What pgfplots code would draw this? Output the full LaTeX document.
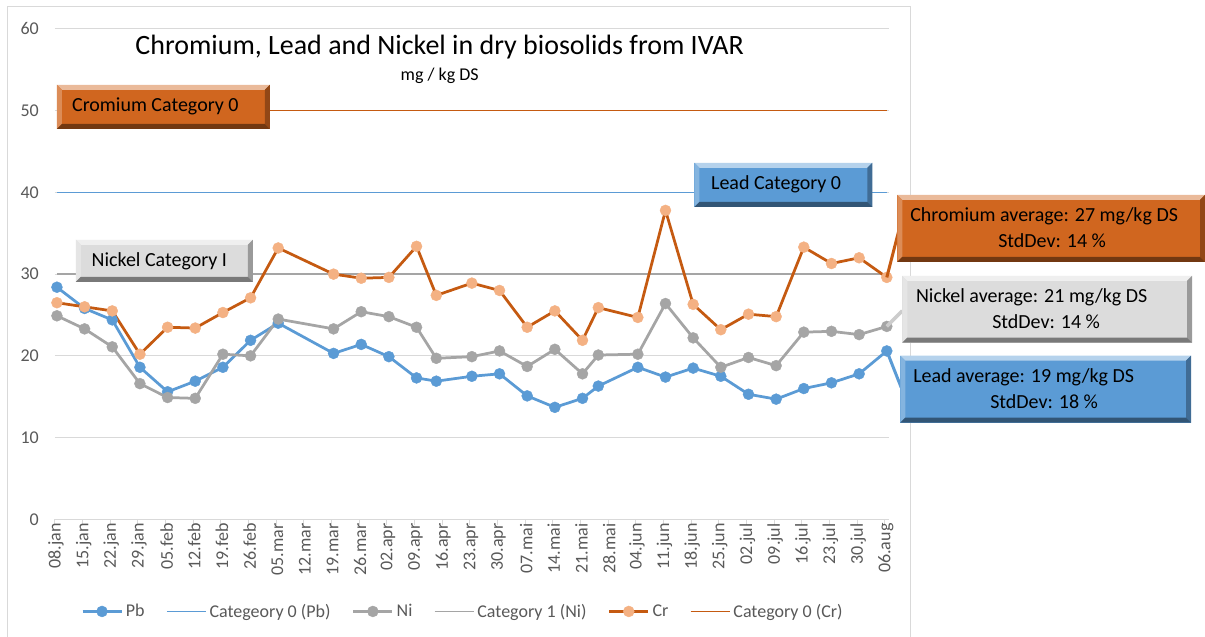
\documentclass[border=0pt]{standalone}
\usepackage{pgfplots}
\usepackage{pgfplotstable}
\pgfplotsset{compat=1.18}
\usepackage{fontspec}
\setmainfont{Carlito}
\definecolor{pbblue}{HTML}{5B9BD5}
\definecolor{nigray}{HTML}{A5A5A5}
\definecolor{crline}{HTML}{C55A11}
\definecolor{crmark}{HTML}{F4B183}
\definecolor{gridc}{HTML}{D9D9D9}
\definecolor{txtgray}{HTML}{595959}
\definecolor{boxorange}{HTML}{D0661F}
\definecolor{boxblue}{HTML}{5B9BD5}
\definecolor{boxgray}{HTML}{DCDCDC}

\pgfplotstableread{
d pb ni cr
0.5 28.4 24.9 26.5
7.5 25.8 23.3 26.0
14.5 24.4 21.1 25.5
21.5 18.6 16.6 20.2
28.5 15.6 14.9 23.5
35.5 16.9 14.8 23.4
42.5 18.6 20.2 25.3
49.5 21.9 20.0 27.1
56.5 24.0 24.5 33.2
70.5 20.3 23.3 30.0
77.5 21.4 25.4 29.5
84.5 19.9 24.8 29.6
91.5 17.3 23.5 33.4
96.5 16.9 19.7 27.4
105.5 17.5 19.9 28.9
112.5 17.8 20.6 28.0
119.5 15.1 18.7 23.5
126.5 13.7 20.8 25.5
133.5 14.8 17.8 21.9
137.5 16.3 20.1 25.9
147.5 18.6 20.2 24.7
154.5 17.4 26.4 37.8
161.5 18.5 22.2 26.3
168.5 17.5 18.6 23.2
175.5 15.3 19.8 25.1
182.5 14.7 18.8 24.8
189.5 16.0 22.9 33.3
196.5 16.7 23.0 31.3
203.5 17.8 22.6 32.0
210.5 20.6 23.6 29.6
}\datatable

\newcommand{\bevelbox}[5]{%
  \fill[#5] (#1,-#2) rectangle (#3,-#4);
  \fill[#5!45!white] (#1,-#2) -- (#3,-#2) -- ({#3-5},{-#2-5}) -- ({#1+5},{-#2-5}) -- cycle;
  \fill[#5!75!white] (#1,-#2) -- ({#1+5},{-#2-5}) -- ({#1+5},{-#4+5}) -- (#1,-#4) -- cycle;
  \fill[#5!70!black] (#3,-#2) -- ({#3-5},{-#2-5}) -- ({#3-5},{-#4+5}) -- (#3,-#4) -- cycle;
  \fill[#5!55!black] (#1,-#4) -- ({#1+5},{-#4+5}) -- ({#3-5},{-#4+5}) -- (#3,-#4) -- cycle;
}

\begin{document}
\begin{tikzpicture}
\begin{scope}[x=1pt,y=1pt]
\useasboundingbox (0,0) rectangle (1205,-637);
\fill[white] (0,0) rectangle (1205,-637);
\draw[gridc, line width=1pt] (7.5,-650) -- (7.5,-6.5) -- (911.5,-6.5) -- (911.5,-650);
\end{scope}
\begin{axis}[
  scale only axis, width=834.5pt, height=490.7pt,
  at={(55pt,-519.7pt)}, anchor=south west,
  xmin=0, xmax=211, ymin=0, ymax=60,
  xtick={0,7,...,210},
  xticklabels={08.jan,15.jan,22.jan,29.jan,05.feb,12.feb,19.feb,26.feb,05.mar,12.mar,19.mar,26.mar,02.apr,09.apr,16.apr,23.apr,30.apr,07.mai,14.mai,21.mai,28.mai,04.jun,11.jun,18.jun,25.jun,02.jul,09.jul,16.jul,23.jul,30.jul,06.aug},
  ytick={0,10,...,60},
  ymajorgrids, grid style={gridc, line width=1pt},
  axis x line*=bottom, axis y line*=left,
  x axis line style={gridc, line width=1pt, -},
  y axis line style={draw=none},
  xtick style={gridc, line width=1pt},
  ytick style={draw=none},
  major tick length=6pt, tick align=outside,
  ticklabel style={font=\fontsize{18}{20}\selectfont, text=txtgray},
  xticklabel style={rotate=90, anchor=east, inner sep=0pt, xshift=2pt, yshift=-1pt},
  yticklabel style={anchor=east, inner sep=0pt, xshift=-10pt},
  /pgf/number format/assume math mode=true,
  clip=false,
  legend columns=6,
  legend style={draw=none, fill=none, at={(0.0312,-0.188)}, anchor=west, inner sep=0pt,
    font=\fontsize{18}{20}\selectfont, text=txtgray,
    /tikz/every odd column/.append style={column sep=3pt},
    /tikz/every even column/.append style={column sep=21.5pt},
    nodes={inner sep=0pt}},
  legend image code/.code={\draw[mark repeat=2,mark phase=2,#1] plot coordinates {(0pt,0pt) (19.5pt,0pt) (39pt,0pt)};},
]
\addplot[pbblue, line width=2.75pt, mark=*, mark size=5.5pt, mark options={solid, fill=pbblue, draw=pbblue, line width=0.4pt}] table[x=d, y=pb] {\datatable};
\addlegendentry{Pb}
\addplot[pbblue, line width=1.5pt] coordinates {(0.5,40) (210.5,40)};
\addlegendentry{Categeory 0 (Pb)}
\addplot[nigray, line width=2.75pt, mark=*, mark size=5.5pt, mark options={solid, fill=nigray, draw=nigray, line width=0.4pt}] table[x=d, y=ni] {\datatable};
\addlegendentry{Ni}
\addplot[nigray, line width=1.5pt] coordinates {(0.5,30) (210.5,30)};
\addlegendentry{Category 1 (Ni)}
\addplot[crline, line width=2.75pt, mark=*, mark size=5.5pt, mark options={solid, fill=crmark, draw=crmark, line width=0.4pt}] table[x=d, y=cr] {\datatable};
\addlegendentry{Cr}
\addplot[crline, line width=1.5pt] coordinates {(0.5,50) (210.5,50)};
\addlegendentry{Category 0 (Cr)}
\coordinate (crlast) at (axis cs:210.5,29.6);
\coordinate (nilast) at (axis cs:210.5,23.6);
\coordinate (pblast) at (axis cs:210.5,20.6);
\end{axis}
\begin{scope}[x=1pt,y=1pt]
% leader lines
\draw[crline, line width=3pt] (crlast) -- (900,-229);
\draw[gray!40, line width=3.5pt] (nilast) -- (903,-311);
\draw[pbblue, line width=3pt] (pblast) -- (902,-388);
% title
\node[font=\fontsize{28}{32}\selectfont, inner sep=0pt] at (440,-47) {Chromium, Lead and Nickel in dry biosolids from IVAR};
\node[font=\fontsize{18}{20}\selectfont, inner sep=0pt] at (440,-76) {mg / kg DS};
% category boxes
\bevelbox{57}{85}{270}{129}{boxorange}
\node[font=\fontsize{20}{24}\selectfont, inner sep=0pt, anchor=west] at (72,-106) {Cromium Category 0};
\bevelbox{695}{163}{873}{207}{boxblue}
\node[font=\fontsize{20}{24}\selectfont, inner sep=0pt, anchor=west] at (711.5,-184) {Lead Category 0};
\bevelbox{76}{240}{253}{282}{boxgray}
\node[font=\fontsize{20}{24}\selectfont, inner sep=0pt, anchor=west] at (91.5,-261) {Nickel Category I};
% average boxes
\bevelbox{898}{195}{1206}{262}{boxorange}
\node[font=\fontsize{20}{24}\selectfont, inner sep=0pt] at (1045,-216) {Chromium average: 27 mg/kg DS};
\node[font=\fontsize{20}{24}\selectfont, inner sep=0pt] at (1053,-241) {StdDev: 14 \%};
\bevelbox{903}{276}{1193}{343}{boxgray}
\node[font=\fontsize{20}{24}\selectfont, inner sep=0pt] at (1032.5,-297.5) {Nickel average: 21 mg/kg DS};
\node[font=\fontsize{20}{24}\selectfont, inner sep=0pt] at (1047,-322) {StdDev: 14 \%};
\bevelbox{901}{356}{1192}{423}{boxblue}
\node[font=\fontsize{20}{24}\selectfont, inner sep=0pt] at (1024.5,-377.5) {Lead average: 19 mg/kg DS};
\node[font=\fontsize{20}{24}\selectfont, inner sep=0pt] at (1045,-402) {StdDev: 18 \%};
\end{scope}
\end{tikzpicture}
\end{document}
